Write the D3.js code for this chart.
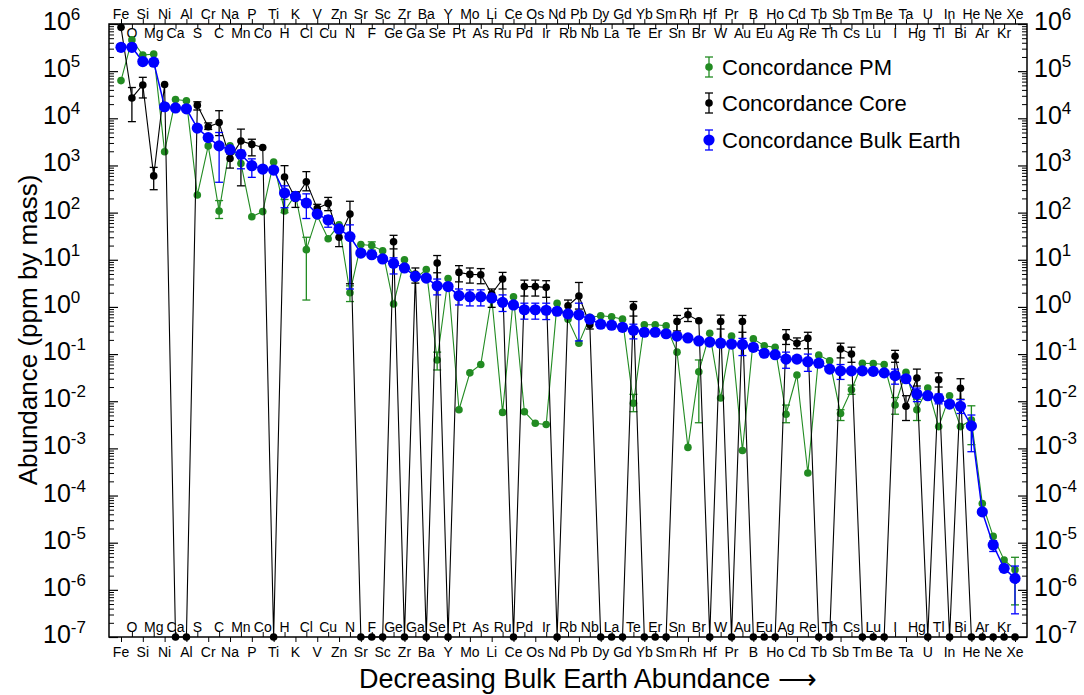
<!DOCTYPE html>
<html><head><meta charset="utf-8">
<script src="https://cdn.jsdelivr.net/npm/d3@7"></script>
<style>
body{margin:0;background:#fff}
svg{display:block}
text{font-family:"Liberation Sans",Arial,Helvetica,sans-serif;fill:#000}
</style>
</head><body>
<svg id="c" width="1084" height="695"></svg>
<script>
// ---------------- DATA ----------------
const elements = ["Fe","O","Si","Mg","Ni","Ca","Al","S","Cr","C","Na","Mn","P","Co","Ti","H","K","Cl","V","Cu","Zn","N","Sr","F","Sc","Ge","Zr","Ga","Ba","Se","Y","Pt","Mo","As","Li","Ru","Ce","Pd","Os","Ir","Nd","Rb","Pb","Nb","Dy","La","Gd","Te","Yb","Er","Sm","Sn","Rh","Br","Hf","W","Pr","Au","B","Eu","Ho","Ag","Cd","Re","Tb","Th","Sb","Cs","Tm","Lu","Be","I","Ta","Hg","U","Tl","In","Bi","He","Ar","Ne","Kr","Xe"];

// Concordance Primitive Mantle (ppm by mass)
const pmValues = [6.3e4,4.6e5,2.2e5,2.3e5,1.96e3,2.5e4,2.35e4,236,2.6e3,108,2.6e3,1.1e3,82,105,1.18e3,108,240,16.4,86,28,55,2.0,21,20,15.5,1.15,10,4.0,6.2,0.075,4.0,0.0066,0.040,0.06,1.6,0.0058,1.64,0.006,0.0034,0.0032,1.2,0.55,0.17,0.6,0.65,0.62,0.55,0.0091,0.42,0.42,0.40,0.11,0.00105,0.042,0.275,0.0117,0.24,0.0009,0.21,0.15,0.139,0.0053,0.036,0.0003,0.095,0.072,0.0055,0.0175,0.064,0.063,0.06,0.0083,0.041,0.0066,0.019,0.0029,0.013,0.0029,0.004,6.8e-5,1.36e-5,4.3e-6,2.67e-6];

// Concordance Core (0 = absent, drawn at the axis floor)
const coreValues = [8.5e5,2.7e4,5.1e4,600,5.2e4,0,0,1.9e4,6.6e3,8.1e3,1.4e3,3.3e3,2.8e3,2.4e3,0,570,200,450,123,157,30,93,0,0,0,24,0,5.0,0,8.5,0,5.4,4.9,4.8,1.9,3.9,0,2.7,2.7,2.6,0,1.06,1.7,0.42,0,0,0,1.0,0,0,0,0.49,0.68,0.51,0,0.49,0,0.49,0,0,0,0.23,0.17,0.215,0,0,0.128,0.1,0,0,0,0.09,0.0078,0.031,0,0.0286,0,0.0188,0,0,0,0,0];

// Concordance Bulk Earth
const bulkValues = [3.2e5,3.2e5,1.6e5,1.55e5,1.76e4,1.66e4,1.59e4,6.2e3,3.9e3,2.6e3,2.16e3,1.72e3,990,840,800,260,220,160,93,70,45,31,13.9,12.8,10.4,8.4,6.7,4.45,4.1,2.8,2.7,1.73,1.65,1.65,1.55,1.25,1.1,0.87,0.87,0.85,0.81,0.71,0.68,0.55,0.43,0.41,0.37,0.32,0.29,0.29,0.27,0.24,0.22,0.19,0.18,0.17,0.163,0.16,0.139,0.104,0.097,0.078,0.078,0.069,0.064,0.048,0.044,0.044,0.044,0.043,0.04,0.035,0.03,0.0142,0.0131,0.0115,0.0087,0.0078,0.003,4.5e-5,8.9e-6,2.86e-6,1.75e-6];

// Error bars: [element, low, high]
const pmErrors = [["C",75,180],["H",100,190],["Cl",1.4,30],["N",1.3,2.8],["F",16,24],["Se",0.046,0.11],["Te",0.006,0.014],["Br",0.0035,0.075],["Ag",0.0035,0.0083],["Sb",0.0039,0.0066],["Cs",0.014,0.022],["I",0.0053,0.012],["Hg",0.0039,0.011],["He",0.0012,0.008],["Xe",4.8e-7,4.9e-6]];
const coreErrors = [["O",8.5e3,4.5e4],["Si",2.7e4,7.4e4],["Mg",306,910],["S",1.5e4,2.24e4],["Cr",5.8e3,8e3],["C",4.3e3,1.45e4],["Na",880,1750],["Mn",370,5.9e3],["P",1.6e3,3.6e3],["H",270,990],["K",129,277],["Cl",290,740],["V",100,150],["Cu",110,210],["Zn",19,39],["N",3.1,174],["Ge",17,33],["Ga",3.2,6.7],["Se",5.3,12.3],["Pt",3.4,7.5],["Mo",3.2,6.7],["As",3.1,6.5],["Li",0.98,2.4],["Ru",2.4,5.4],["Pd",1.7,3.7],["Os",1.7,3.7],["Ir",1.6,3.6],["Rb",0.7,1.4],["Pb",0.9,3.3],["Nb",0.34,0.55],["Te",0.64,1.3],["Sn",0.31,0.66],["Rh",0.49,0.93],["W",0.34,0.67],["Au",0.29,0.66],["Ag",0.16,0.33],["Cd",0.13,0.22],["Re",0.13,0.29],["Sb",0.083,0.17],["Cs",0.067,0.14],["I",0.067,0.12],["Ta",0.0039,0.0131],["Hg",0.021,0.048],["Tl",0.02,0.04],["Bi",0.011,0.03]];
const bulkErrors = [["C",440,5e3],["Mn",850,2.1e3],["P",560,1.38e3],["H",127,370],["Cl",75,250],["Cu",49,86],["N",2.4,55],["Ge",5,11],["Se",1.8,3.9],["Pt",1.1,2.4],["Mo",1.05,2.3],["As",1.05,2.3],["Ru",0.8,1.8],["Pd",0.55,1.2],["Os",0.55,1.2],["Ir",0.54,1.2],["Pb",0.19,1.2],["Te",0.21,0.43],["Au",0.093,0.215],["Ag",0.05,0.11],["Re",0.043,0.1],["Sb",0.029,0.06],["I",0.023,0.048],["Hg",0.0098,0.019],["Tl",0.0088,0.0142],["Bi",0.0055,0.0108],["He",0.00085,0.0051],["Ne",6.5e-6,1.1e-5],["Xe",3.1e-7,3.2e-6]];

const yTickExponents = [-7,-6,-5,-4,-3,-2,-1,0,1,2,3,4,5,6];
const seriesNames = ["Concordance PM","Concordance Core","Concordance Bulk Earth"];

// ---------------- DRAW ----------------
const svg = d3.select("#c");
const P = {left:109, right:1027, top:24, bottom:637};
const floorV = 1e-7;
const x = d3.scaleLinear().domain([0, elements.length-1]).range([121, 1015]);
const y = d3.scaleLog().domain([1e-7, 1e6]).range([P.bottom, P.top]);
const idx = new Map(elements.map((e,i)=>[e,i]));
const clampV = v => Math.max(v, floorV);

const series = [
  {name:seriesNames[0], vals:pmValues,   errs:pmErrors,   color:"#228b22", r:3.8, lw:1.1},
  {name:seriesNames[1], vals:coreValues, errs:coreErrors, color:"#000000", r:3.8, lw:1.1},
  {name:seriesNames[2], vals:bulkValues, errs:bulkErrors, color:"#0000ff", r:5.6, lw:1.5}
];

const majors = yTickExponents.map(e=>Math.pow(10,e));
const minors = [];
yTickExponents.slice(0,-1).forEach(e=>{ for(let k=2;k<10;k++) minors.push(k*Math.pow(10,e)); });

function yAxes(gen, xpos){
  svg.append("g").attr("transform",`translate(${xpos},0)`)
    .call(gen(y).tickValues(majors).tickSize(9).tickFormat(""))
    .call(g=>g.select(".domain").remove())
    .selectAll("line").attr("stroke","#000").attr("stroke-width",1.2);
  svg.append("g").attr("transform",`translate(${xpos},0)`)
    .call(gen(y).tickValues(minors).tickSize(5).tickFormat(""))
    .call(g=>g.select(".domain").remove())
    .selectAll("line").attr("stroke","#000").attr("stroke-width",1);
}
yAxes(d3.axisRight, P.left);
yAxes(d3.axisLeft, P.right);

const evens = d3.range(0, elements.length, 2);
const odds = d3.range(1, elements.length, 2);
function xTicks(gen, ypos, vals){
  svg.append("g").attr("transform",`translate(0,${ypos})`)
    .call(gen(x).tickValues(vals).tickSize(5).tickFormat(""))
    .call(g=>g.select(".domain").remove())
    .selectAll("line").attr("stroke","#000").attr("stroke-width",1);
}
xTicks(d3.axisBottom, P.bottom, evens);
xTicks(d3.axisTop, P.bottom, odds);
xTicks(d3.axisTop, P.top, evens);
xTicks(d3.axisBottom, P.top, odds);

function xLabels(vals, ypos){
  svg.append("g").selectAll("text").data(vals).join("text")
    .attr("x", i=>x(i)).attr("y", ypos).attr("text-anchor","middle")
    .attr("font-size", 14).text(i=>elements[i]);
}
xLabels(evens, 19);
xLabels(odds, 38);
xLabels(odds, 632);
xLabels(evens, 657);

function yLabels(xpos){
  const g = svg.append("g");
  majors.forEach((v,k)=>{
    const t = g.append("text").attr("x", xpos).attr("y", y(v)+6).attr("font-size", 25);
    t.append("tspan").text("10");
    t.append("tspan").attr("font-size", 17).attr("dy", -10).text(String(yTickExponents[k]));
  });
}
yLabels(43);
yLabels(1034);

series.forEach(s=>{
  const pts = s.vals.map((v,i)=>[i, clampV(v)]);
  svg.append("path").datum(pts)
    .attr("d", d3.line().x(d=>x(d[0])).y(d=>y(d[1])))
    .attr("fill","none").attr("stroke", s.color).attr("stroke-width", s.lw);
  const eg = svg.append("g").attr("stroke", s.color).attr("stroke-width", 1.3);
  s.errs.forEach(([el,lo,hi])=>{
    const xi = x(idx.get(el));
    eg.append("line").attr("x1",xi).attr("x2",xi).attr("y1",y(lo)).attr("y2",y(hi));
    eg.append("line").attr("x1",xi-4).attr("x2",xi+4).attr("y1",y(lo)).attr("y2",y(lo));
    eg.append("line").attr("x1",xi-4).attr("x2",xi+4).attr("y1",y(hi)).attr("y2",y(hi));
  });
  svg.append("g").selectAll("circle").data(pts).join("circle")
    .attr("cx", d=>x(d[0])).attr("cy", d=>y(d[1])).attr("r", s.r).attr("fill", s.color);
});

svg.append("rect").attr("x",P.left).attr("y",P.top).attr("width",P.right-P.left).attr("height",P.bottom-P.top)
  .attr("fill","none").attr("stroke","#000").attr("stroke-width",1.5);

const legY = [67, 103, 140];
series.forEach((s,k)=>{
  const g = svg.append("g");
  const cx = 709, cy = legY[k];
  g.append("line").attr("x1",cx).attr("x2",cx).attr("y1",cy-10).attr("y2",cy+10).attr("stroke",s.color).attr("stroke-width",1.3);
  g.append("line").attr("x1",cx-4).attr("x2",cx+4).attr("y1",cy-10).attr("y2",cy-10).attr("stroke",s.color).attr("stroke-width",1.3);
  g.append("line").attr("x1",cx-4).attr("x2",cx+4).attr("y1",cy+10).attr("y2",cy+10).attr("stroke",s.color).attr("stroke-width",1.3);
  g.append("circle").attr("cx",cx).attr("cy",cy).attr("r",s.r).attr("fill",s.color);
  g.append("text").attr("x",722).attr("y",cy+8).attr("font-size",22).text(s.name);
});

svg.append("text").attr("x",588).attr("y",688).attr("text-anchor","middle").attr("font-size",27)
  .text("Decreasing Bulk Earth Abundance \u27F6");
svg.append("text").attr("transform","translate(37,330) rotate(-90)").attr("text-anchor","middle").attr("font-size",26)
  .text("Abundance (ppm by mass)");
</script>
</body></html>
